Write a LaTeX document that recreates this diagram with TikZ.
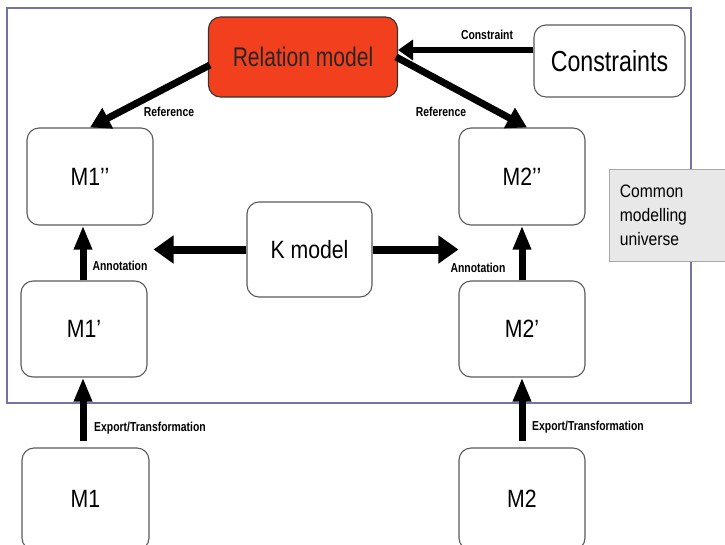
\documentclass[tikz,border=0pt]{standalone}
\usepackage{fontspec}
\setmainfont{Liberation Sans}
\usetikzlibrary{arrows.meta,calc}
\definecolor{relred}{HTML}{F2401E}
\definecolor{framecol}{HTML}{7474A4}
\definecolor{boxline}{HTML}{5A5A5A}
\definecolor{notegray}{HTML}{E8E8E8}
\definecolor{noteline}{HTML}{A8A8A8}
\newcommand{\sqz}[2]{\scalebox{#1}[1]{#2}}
\begin{document}
\begin{tikzpicture}[x=1pt,y=-1pt,
  box/.style={draw=boxline, line width=1.1pt, rounded corners=12pt, fill=white,
    font=\fontsize{25}{28}\selectfont, inner sep=0pt},
  lbl/.style={font=\bfseries\fontsize{13}{15}\selectfont, inner sep=0pt},
  fatarrow/.style={line width=8pt, -{Triangle[width=27pt,length=20pt]}},
  refarrow/.style={line width=7pt, -{Triangle[width=22pt,length=20pt]}},
  uparrow/.style={line width=7pt, -{Triangle[width=17pt,length=24pt]}},
  conarrow/.style={line width=6pt, -{Triangle[width=20pt,length=15pt]}},
  note/.style={draw=noteline, line width=0.8pt, fill=notegray, align=left,
    font=\fontsize{18}{24}\selectfont, text width=95pt, inner xsep=10.5pt,
    inner ysep=0pt, minimum height=92pt}
]
\useasboundingbox (0,0) rectangle (725,544);
\fill[white] (0,0) rectangle (725,544);

% common modelling universe frame
\draw[framecol, line width=2.5pt] (7,8) rectangle (691,403);

% nodes
\node[box, fill=relred, draw=black!80, minimum width=189pt, minimum height=80pt,
      font=\fontsize{27}{30}\selectfont, text=black!85] (rel) at (303,57) {\sqz{0.78}{Relation model}};
\node[box, minimum width=151pt, minimum height=72pt, font=\fontsize{29}{32}\selectfont] (cons) at (609.5,61) {\sqz{0.8}{Constraints}};
\node[box, minimum width=126pt, minimum height=97pt] (m1pp) at (90,176.5) {\sqz{0.85}{M1’’}};
\node[box, minimum width=126pt, minimum height=97pt] (m2pp) at (522,176.5) {\sqz{0.85}{M2’’}};
\node[box, minimum width=125pt, minimum height=95pt] (k) at (309.5,249.5) {\sqz{0.85}{K model}};
\node[box, minimum width=126pt, minimum height=96pt] (m1p) at (84,329) {\sqz{0.85}{M1’}};
\node[box, minimum width=126pt, minimum height=96pt] (m2p) at (522,329) {\sqz{0.85}{M2’}};
\node[box, minimum width=127pt, minimum height=102pt] (m1) at (85.5,499) {\sqz{0.85}{M1}};
\node[box, minimum width=126pt, minimum height=102pt] (m2) at (522,499) {\sqz{0.85}{M2}};

\node[note, anchor=north west] (cmu) at (609,169) {\sqz{0.87}{Common}\\\sqz{0.87}{modelling}\\\sqz{0.87}{universe}};

% connectors
\draw[conarrow] ($(cons.west)+(0,-11)$) -- ($(cons.west -| rel.east)+(0,-11)$);
\draw[refarrow] ($(rel.west)+(2,8)$) -- (m1pp.north);
\draw[refarrow] ($(rel.east)+(-2,0)$) -- ($(m2pp.north)+(5,0)$);
\draw[fatarrow] (k.west) -- (k.west -| m1pp.east);
\draw[fatarrow] (k.east) -- (k.east -| m2pp.west);
\draw[uparrow] (m1p.north -| 83,0) -- (m1pp.south -| 83,0);
\draw[uparrow] (m2p.north) -- (m2pp.south -| m2p.north);
\draw[uparrow, shorten <=6pt] (m1.north -| 83,0) -- (m1p.south -| 83,0);
\draw[uparrow, shorten <=6pt] (m2.north) -- (m2p.south);

% labels
\node[lbl] (lcon) at (487,35) {\sqz{0.8}{Constraint}};
\node[lbl] (lref1) at (169,112) {\sqz{0.8}{Reference}};
\node[lbl] (lref2) at (441,112) {\sqz{0.8}{Reference}};
\node[lbl] (lann1) at (120,266) {\sqz{0.8}{Annotation}};
\node[lbl] (lann2) at (478,268) {\sqz{0.8}{Annotation}};
\node[lbl] (lexp1) at (150,428) {\sqz{0.8}{Export/Transformation}};
\node[lbl] (lexp2) at (588,427) {\sqz{0.8}{Export/Transformation}};
\end{tikzpicture}
\end{document}
